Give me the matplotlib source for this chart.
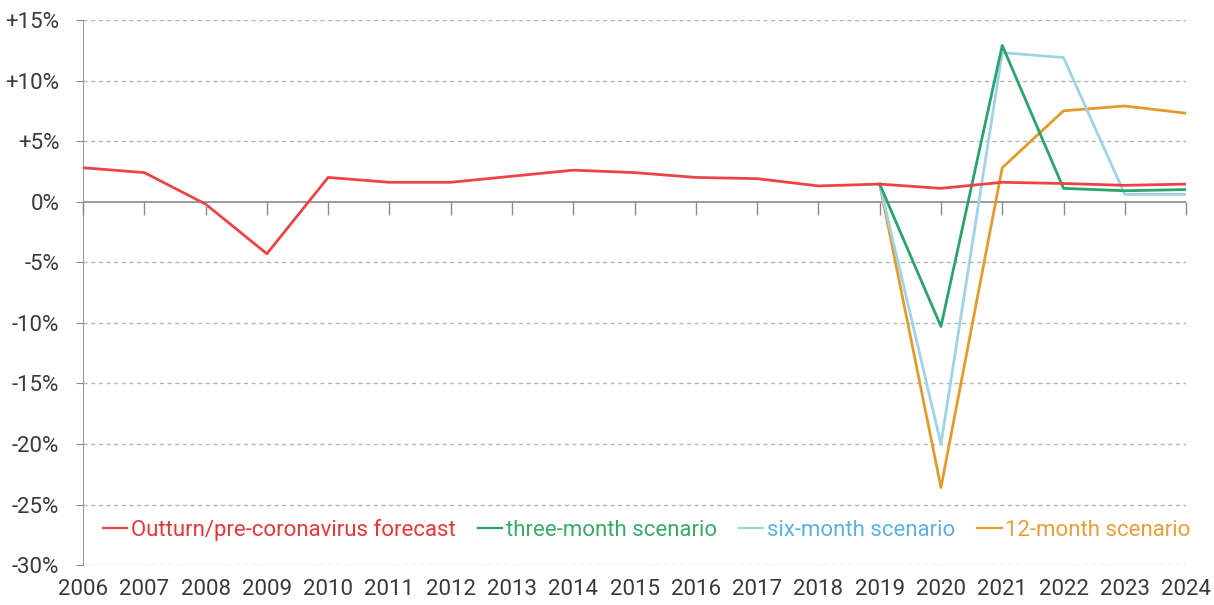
import numpy as np
import matplotlib
matplotlib.use("Agg")
import matplotlib.pyplot as plt

plt.rcParams['font.family'] = ['Roboto', 'DejaVu Sans']

years = list(range(2006, 2025))
scen_years = list(range(2019, 2025))

outturn = [2.8, 2.4, -0.2, -4.3, 2.0, 1.6, 1.6, 2.1, 2.6, 2.4, 2.0, 1.9, 1.3,
           1.45, 1.1, 1.6, 1.5, 1.35, 1.45]
three_month = [1.45, -10.3, 12.9, 1.1, 0.9, 1.0]
six_month = [1.45, -20.0, 12.3, 11.9, 0.6, 0.6]
twelve_month = [1.45, -23.6, 2.8, 7.5, 7.9, 7.3]

labels = ["Outturn/pre-coronavirus forecast", "three-month scenario",
          "six-month scenario", "12-month scenario"]
line_colors = ["#EC4446", "#2BA36A", "#9ED3E8", "#E29B2C"]
text_colors = ["#E5383B", "#3AAA6A", "#5CB2DA", "#E4A03C"]

fig = plt.figure(figsize=(12.14, 6.05), dpi=100)
ax = fig.add_axes([0.0684, 0.066, 0.9086, 0.901])

ax.plot(years, outturn, color=line_colors[0], lw=2, label=labels[0], zorder=5)
ax.plot(scen_years, three_month, color=line_colors[1], lw=2, label=labels[1], zorder=4)
ax.plot(scen_years, six_month, color=line_colors[2], lw=2, label=labels[2], zorder=3)
ax.plot(scen_years, twelve_month, color=line_colors[3], lw=2, label=labels[3], zorder=2)

ax.set_xlim(2006, 2024)
ax.set_ylim(-30, 15)
yt = np.arange(-30, 16, 5)
ax.set_yticks(yt)
ax.set_yticklabels([("+%d%%" % v) if v > 0 else ("%d%%" % v) for v in yt])
for v in yt:
    if v != 0:
        ax.axhline(v, color="#b5b5b5", lw=1, ls=(0, (3, 2.5)), zorder=0)
ax.axhline(0, color="#8a8a8a", lw=1.2, zorder=1)

ax.set_xticks(years)
ax.set_xticklabels([str(y) for y in years])
ax.tick_params(axis='x', length=0, pad=10, labelsize=16, labelcolor="#3a3a3a")
ax.tick_params(axis='y', length=5, color="#8a8a8a", pad=12, labelsize=16, labelcolor="#3a3a3a")

for s in ["top", "right", "bottom"]:
    ax.spines[s].set_visible(False)
ax.spines["left"].set_color("#9a9a9a")

# tick marks hanging from the zero line
ax2 = ax.twiny()
ax2.set_xlim(ax.get_xlim())
ax2.set_xticks(years)
ax2.set_xticklabels([])
ax2.xaxis.set_ticks_position('bottom')
ax2.spines['bottom'].set_position(('data', 0))
ax2.tick_params(axis='x', direction='out', length=9, color="#8a8a8a", width=1)
for s in ["top", "right", "left", "bottom"]:
    ax2.spines[s].set_visible(False)

leg = ax.legend(loc="lower left", bbox_to_anchor=(0.0, 0.008), ncol=4, frameon=False,
                fontsize=16, handlelength=1.1, handletextpad=0.15, columnspacing=1.0)
for h in leg.get_lines():
    h.set_linewidth(1.6)
for t, c in zip(leg.get_texts(), text_colors):
    t.set_color(c)

fig.savefig("out.png", dpi=100)
